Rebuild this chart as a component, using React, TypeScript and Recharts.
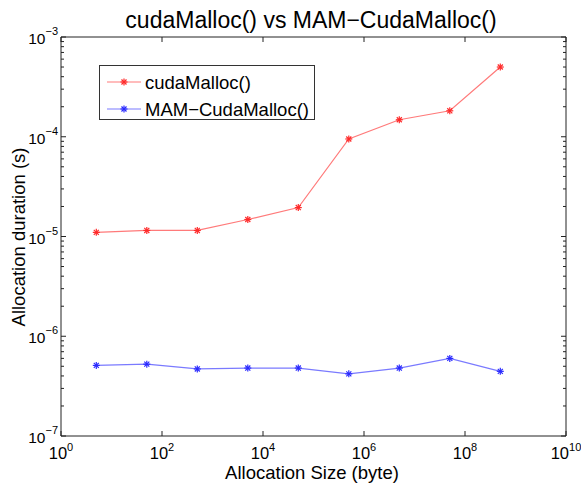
import React from "react";
import { CartesianGrid, Line, LineChart, XAxis, YAxis } from "recharts";

const sizes = [5, 50, 500, 5e3, 5e4, 5e5, 5e6, 5e7, 5e8];
const cudaMalloc = [1.1e-5, 1.15e-5, 1.15e-5, 1.48e-5, 1.95e-5, 9.5e-5, 1.48e-4, 1.82e-4, 5.0e-4];
const mamCudaMalloc = [5.1e-7, 5.25e-7, 4.7e-7, 4.8e-7, 4.8e-7, 4.2e-7, 4.8e-7, 6.0e-7, 4.45e-7];

const xTicks = [1, 1e2, 1e4, 1e6, 1e8, 1e10];
const yMajorTicks = [1e-7, 1e-6, 1e-5, 1e-4, 1e-3];
const minorSteps = [2, 3, 4, 5, 6, 7, 8, 9];

const yTicks = yMajorTicks.flatMap((t, i) =>
  i < yMajorTicks.length - 1 ? [t, ...minorSteps.map((m) => t * m)] : [t],
);

const chartData = sizes.map((size, i) => ({
  size,
  cuda: cudaMalloc[i],
  mam: mamCudaMalloc[i],
}));

const FONT = "'Liberation Sans', Arial, Helvetica, sans-serif";
const AXIS = "#222";

const exponent = (v: number) => Math.round(Math.log10(v));
const isMajor = (v: number) => Math.abs(Math.log10(v) - exponent(v)) < 1e-6;
const supLabel = (e: number) => (e < 0 ? `\u2212${-e}` : `${e}`);

function BottomTick(props: any) {
  const { x, y, payload } = props;
  return (
    <g>
      <line x1={x} x2={x} y1={y} y2={y - 5} stroke={AXIS} />
      <text x={x} y={y + 23} textAnchor="middle" fontSize={16.5} fontFamily={FONT} fill="#000">
        10
        <tspan dy={-8} fontSize={11}>
          {supLabel(exponent(payload.value))}
        </tspan>
      </text>
    </g>
  );
}

function TopTick(props: any) {
  const { x, y } = props;
  return <line x1={x} x2={x} y1={y} y2={y + 5} stroke={AXIS} />;
}

function LeftTick(props: any) {
  const { x, y, payload } = props;
  const major = isMajor(payload.value);
  return (
    <g>
      <line x1={x} x2={x + (major ? 5 : 3)} y1={y} y2={y} stroke={AXIS} />
      {major && (
        <text x={x - 3} y={y + 7} textAnchor="end" fontSize={15.5} fontFamily={FONT} fill="#000">
          10
          <tspan dy={-9} fontSize={11}>
            {supLabel(exponent(payload.value))}
          </tspan>
        </text>
      )}
    </g>
  );
}

function RightTick(props: any) {
  const { x, y, payload } = props;
  const major = isMajor(payload.value);
  return <line x1={x} x2={x - (major ? 5 : 3)} y1={y} y2={y} stroke={AXIS} />;
}

function starDot(color: string) {
  return (props: any) => {
    const { cx, cy, index } = props;
    if (cx == null || cy == null) return <g key={index} />;
    const r = 3.5;
    const d = r * 0.72;
    return (
      <g key={index} stroke={color} strokeWidth={1.2}>
        <line x1={cx - r} x2={cx + r} y1={cy} y2={cy} />
        <line x1={cx} x2={cx} y1={cy - r} y2={cy + r} />
        <line x1={cx - d} x2={cx + d} y1={cy - d} y2={cy + d} />
        <line x1={cx - d} x2={cx + d} y1={cy + d} y2={cy - d} />
      </g>
    );
  };
}

function LegendStar({ cx, cy, color }: { cx: number; cy: number; color: string }) {
  return starDot(color)({ cx, cy, index: 0 });
}

export default function App() {
  return (
    <div style={{ position: "absolute", left: 0, top: 0, width: 581, height: 483, background: "#fff", fontFamily: FONT }}>
      <LineChart
        width={581}
        height={483}
        data={chartData}
        margin={{ top: 0, right: 0, bottom: 0, left: 0 }}
      >
        <CartesianGrid stroke="none" />
        <XAxis
          dataKey="size"
          type="number"
          scale="log"
          domain={[1, 1e10]}
          ticks={xTicks}
          allowDataOverflow
          height={47}
          tickSize={0}
          tickMargin={0}
          tickLine={false}
          axisLine={{ stroke: AXIS }}
          tick={<BottomTick />}
          interval={0}
        />
        <XAxis
          xAxisId="top"
          orientation="top"
          dataKey="size"
          type="number"
          scale="log"
          domain={[1, 1e10]}
          ticks={xTicks}
          allowDataOverflow
          height={37}
          tickSize={0}
          tickMargin={0}
          tickLine={false}
          axisLine={{ stroke: AXIS }}
          tick={<TopTick />}
          interval={0}
        />
        <YAxis
          type="number"
          scale="log"
          domain={[1e-7, 1e-3]}
          ticks={yTicks}
          allowDataOverflow
          width={61}
          tickSize={0}
          tickMargin={0}
          tickLine={false}
          axisLine={{ stroke: AXIS }}
          tick={<LeftTick />}
          interval={0}
        />
        <YAxis
          yAxisId="right"
          orientation="right"
          type="number"
          scale="log"
          domain={[1e-7, 1e-3]}
          ticks={yTicks}
          allowDataOverflow
          width={15}
          tickSize={0}
          tickMargin={0}
          tickLine={false}
          axisLine={{ stroke: AXIS }}
          tick={<RightTick />}
          interval={0}
        />
        <Line
          dataKey="cuda"
          stroke="#ff7a7a"
          strokeWidth={1.2}
          dot={starDot("#ff2a2a")}
          isAnimationActive={false}
        />
        <Line
          dataKey="mam"
          stroke="#7a7aff"
          strokeWidth={1.2}
          dot={starDot("#2a2aff")}
          isAnimationActive={false}
        />
      </LineChart>

      <div
        style={{
          position: "absolute",
          left: 0,
          width: 622,
          top: 7,
          textAlign: "center",
          fontSize: 23,
          color: "#000",
        }}
      >
        cudaMalloc() vs MAM−CudaMalloc()
      </div>

      <svg style={{ position: "absolute", left: 0, top: 0, pointerEvents: "none" }} width={581} height={483}>
        <text x={312} y={479} textAnchor="middle" fontSize={18.5} fontFamily={FONT} fill="#000">
          Allocation Size (byte)
        </text>
        <text
          x={25}
          y={237}
          textAnchor="middle"
          fontSize={18.5}
          fontFamily={FONT}
          fill="#000"
          transform="rotate(-90 25 237)"
        >
          Allocation duration (s)
        </text>
        <rect x={99.5} y={65.5} width={215} height={54} fill="#fff" stroke="#333" />
        <line x1={107} x2={141} y1={82} y2={82} stroke="#ff7a7a" strokeWidth={1.2} />
        <LegendStar cx={124} cy={82} color="#ff2a2a" />
        <text x={145} y={89} fontSize={18.5} fontFamily={FONT} fill="#000">
          cudaMalloc()
        </text>
        <line x1={107} x2={141} y1={109} y2={109} stroke="#7a7aff" strokeWidth={1.2} />
        <LegendStar cx={124} cy={109} color="#2a2aff" />
        <text x={145} y={116} fontSize={18.5} fontFamily={FONT} fill="#000">
          MAM−CudaMalloc()
        </text>
      </svg>
    </div>
  );
}
